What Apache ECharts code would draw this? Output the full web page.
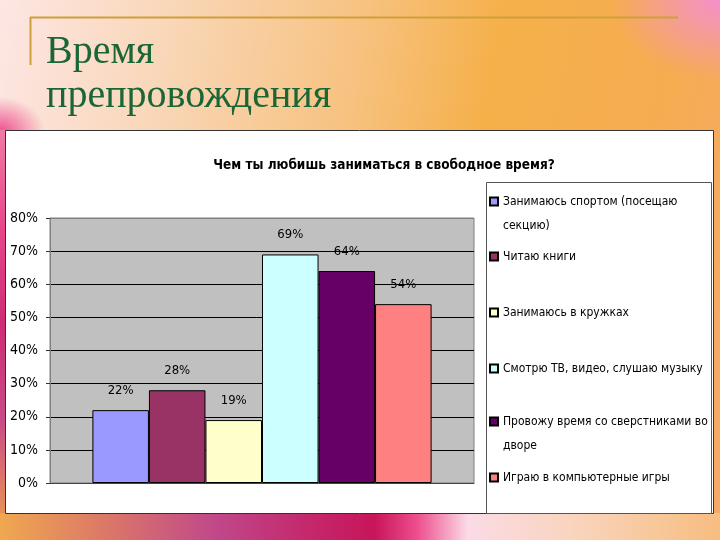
<!DOCTYPE html>
<html>
<head>
<meta charset="utf-8">
<script src="https://cdn.jsdelivr.net/npm/echarts@6/dist/echarts.min.js"></script>
<style>
html,body{margin:0;padding:0;}
#chart{width:720px;height:540px;
background:
 linear-gradient(to right,#f0a850 0%,#dc7a66 14%,#c0488a 30%,#c42a6e 42%,#c8155a 52%,#ee4f8e 58%,#fbdbe6 65%,#f9d4bc 80%,#f7bd80 100%) left bottom/100% 27px no-repeat,
 linear-gradient(to bottom,#f07aa6 0%,#e8488a 25%,#cf2c76 50%,#c84a86 75%,#e89058 100%) left 130px/6px 384px no-repeat,
 radial-gradient(ellipse 45px 35px at 0px 132px,#ec4e8e 0%,rgba(236,78,142,0) 100%) no-repeat,
 radial-gradient(ellipse 110px 80px at 720px 0px,#f590cc 0%,rgba(245,144,204,0) 100%) no-repeat,
 linear-gradient(100deg,#fde6e4 0%,#f9d6b6 22%,#f7c280 45%,#f5b04a 62%,#f5ac52 85%,#f5a868 100%);
}
</style>
</head>
<body>
<div id="chart"></div>
<script>
const categories = [''];
const seriesNames = [
  'Занимаюсь спортом (посещаю секцию)',
  'Читаю книги',
  'Занимаюсь в кружках',
  'Смотрю ТВ, видео, слушаю музыку',
  'Провожу время со сверстниками во дворе',
  'Играю в компьютерные игры'
];
const legendLabels = [
  'Занимаюсь спортом (посещаю\nсекцию)',
  'Читаю книги',
  'Занимаюсь в кружках',
  'Смотрю ТВ, видео, слушаю музыку',
  'Провожу время со сверстниками во\nдворе',
  'Играю в компьютерные игры'
];
const values = [22, 28, 19, 69, 64, 54];
const yTicks = [0, 10, 20, 30, 40, 50, 60, 70, 80];

const colors = ['#9999ff', '#993366', '#ffffcc', '#ccffff', '#660066', '#ff8080'];
const legendTops = [189.5, 244.5, 300.5, 356.5, 409.5, 465.5];
const FONT = "'Liberation Sans Narrow','Arial Narrow','DejaVu Sans Condensed',sans-serif";
const LH = 24;

const chart = echarts.init(document.getElementById('chart'), null, {renderer: 'canvas'});

const series = seriesNames.map((n, i) => ({
  name: n,
  type: 'bar',
  data: [values[i]],
  barGap: '0%',
  barCategoryGap: '20%',
  itemStyle: {color: colors[i], borderColor: '#000', borderWidth: 1},
  label: {show: true, position: 'top', distance: 13, formatter: '{c}%', color: '#000', fontFamily: FONT, fontSize: 13}
}));

const legends = seriesNames.map((n, i) => {
  const two = legendLabels[i].indexOf('\n') >= 0;
  return {
    data: [n],
    orient: 'vertical',
    left: 489,
    top: legendTops[i],
    padding: 0,
    itemWidth: 8,
    itemHeight: two ? LH + 8 : 8,
    itemGap: 0,
    icon: two ? 'path://M0,0h8v8h-8zM0,' + (LH + 8) + 'h0.01' : 'rect',
    selectedMode: false,
    formatter: () => legendLabels[i],
    textStyle: {fontFamily: FONT, fontSize: 12, color: '#000', lineHeight: LH}
  };
});

chart.setOption({
  animation: false,
  backgroundColor: 'transparent',
  title: [
    {text: 'Время\nпрепровождения', left: 41, top: 25,
     textStyle: {fontFamily: "'Liberation Serif','DejaVu Serif',serif", fontSize: 40, fontWeight: 'normal', color: '#1a6636', lineHeight: 44}},
    {text: 'Чем ты любишь заниматься в свободное время?', left: 379, top: 153, textAlign: 'center',
     textStyle: {fontFamily: FONT, fontSize: 13.5, fontWeight: 'bold', color: '#000'}}
  ],
  graphic: [
    {type: 'rect', z: -10, shape: {x: 5.5, y: 130.5, width: 708, height: 383}, style: {fill: '#fff', stroke: '#333', lineWidth: 1}},
    {type: 'rect', z: -9, shape: {x: 486.5, y: 182.5, width: 225, height: 331}, style: {fill: '#fff', stroke: '#555', lineWidth: 1}},
    {type: 'line', shape: {x1: 30, y1: 17.5, x2: 678, y2: 17.5}, style: {stroke: '#cf9f3c', lineWidth: 2}},
    {type: 'line', shape: {x1: 30.5, y1: 17, x2: 30.5, y2: 65}, style: {stroke: '#cf9f3c', lineWidth: 2}}
  ],
  legend: legends,
  grid: {left: 50, right: 246, top: 218, bottom: 57, show: true, backgroundColor: '#c0c0c0', borderColor: '#808080', borderWidth: 1},
  xAxis: {
    type: 'category', data: categories,
    axisLine: {show: true, lineStyle: {color: '#444'}},
    axisTick: {show: false}, axisLabel: {show: false}
  },
  yAxis: {
    type: 'value', min: 0, max: 80, interval: 10,
    axisLine: {show: true, lineStyle: {color: '#808080'}},
    axisTick: {show: true, length: 4, lineStyle: {color: '#333'}},
    axisLabel: {formatter: v => yTicks.indexOf(v) >= 0 ? v + '%' : '', margin: 12, fontFamily: FONT, fontSize: 14, color: '#000'},
    splitLine: {show: true, lineStyle: {color: ['#000', '#000', '#000', '#000', '#000', '#000', '#000', '#000', '#808080'], width: 1}}
  },
  series: series
});
</script>
</body>
</html>
